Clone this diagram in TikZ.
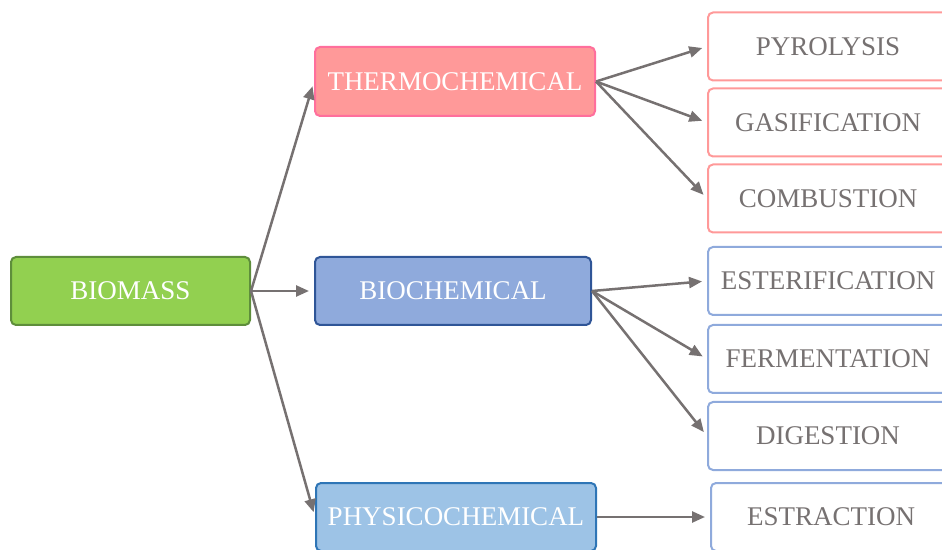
\documentclass[tikz,border=0pt]{standalone}
\usepackage{fontspec}
\setmainfont{Liberation Serif}
\usepackage{xcolor,tikz}
\usetikzlibrary{arrows.meta,positioning}
\definecolor{arrowgray}{HTML}{767171}
\definecolor{leafgreen}{HTML}{92D050}
\definecolor{leafgreendark}{HTML}{5E8E3B}
\definecolor{thermofill}{HTML}{FF9999}
\definecolor{thermoline}{HTML}{FF6F9C}
\definecolor{biofill}{HTML}{8FAADC}
\definecolor{bioline}{HTML}{2F5597}
\definecolor{physfill}{HTML}{9DC3E6}
\definecolor{physline}{HTML}{2E75B6}

\begin{document}
\begin{tikzpicture}[x=1pt,y=1pt,
  main/.style={rounded corners=5pt,line width=2pt,text=white,
    minimum height=68pt,font=\fontsize{27}{32}\selectfont},
  leaf/.style={rounded corners=5pt,line width=2pt,fill=white,text=arrowgray,
    minimum width=240pt,minimum height=68pt,font=\fontsize{27}{32}\selectfont},
  hot/.style={leaf,draw=thermofill},
  cold/.style={leaf,draw=biofill},
  arrow/.style={-{Triangle[length=13pt,width=11pt]},line width=2.5pt,draw=arrowgray}]
\useasboundingbox (0,0) rectangle (942,549);
\clip (0,0) rectangle (942,549);
\node[main,draw=leafgreendark,fill=leafgreen,minimum width=239pt] (biomass) at (130.5,258) {BIOMASS};
\node[main,draw=thermoline,fill=thermofill,minimum width=280pt,minimum height=69pt] (thermo) at (455,467.5) {THERMOCHEMICAL};
\node[main,draw=bioline,fill=biofill,minimum width=276pt] (bio) at (453,258) {BIOCHEMICAL};
\node[main,draw=physline,fill=physfill,minimum width=280pt] (physico) at (456,32) {PHYSICOCHEMICAL};
\node[hot] (pyrolysis) at (828,502.5) {PYROLYSIS};
\node[hot,below=6pt of pyrolysis] (gasification) {GASIFICATION};
\node[hot,below=6pt of gasification] (combustion) {COMBUSTION};
\node[cold] (esterification) at (828,268) {ESTERIFICATION};
\node[cold,below=8pt of esterification] (fermentation) {FERMENTATION};
\node[cold,below=7pt of fermentation] (digestion) {DIGESTION};
\node[cold] (estraction) at (831,32) {ESTRACTION};
\foreach \a/\b in {biomass/thermo,biomass/bio,biomass/physico,
  thermo/pyrolysis,thermo/gasification,thermo/combustion,
  bio/esterification,bio/fermentation,bio/digestion,physico/estraction}
  \draw[arrow,shorten >=5pt] (\a.east)--(\b.west);
\end{tikzpicture}
\end{document}
